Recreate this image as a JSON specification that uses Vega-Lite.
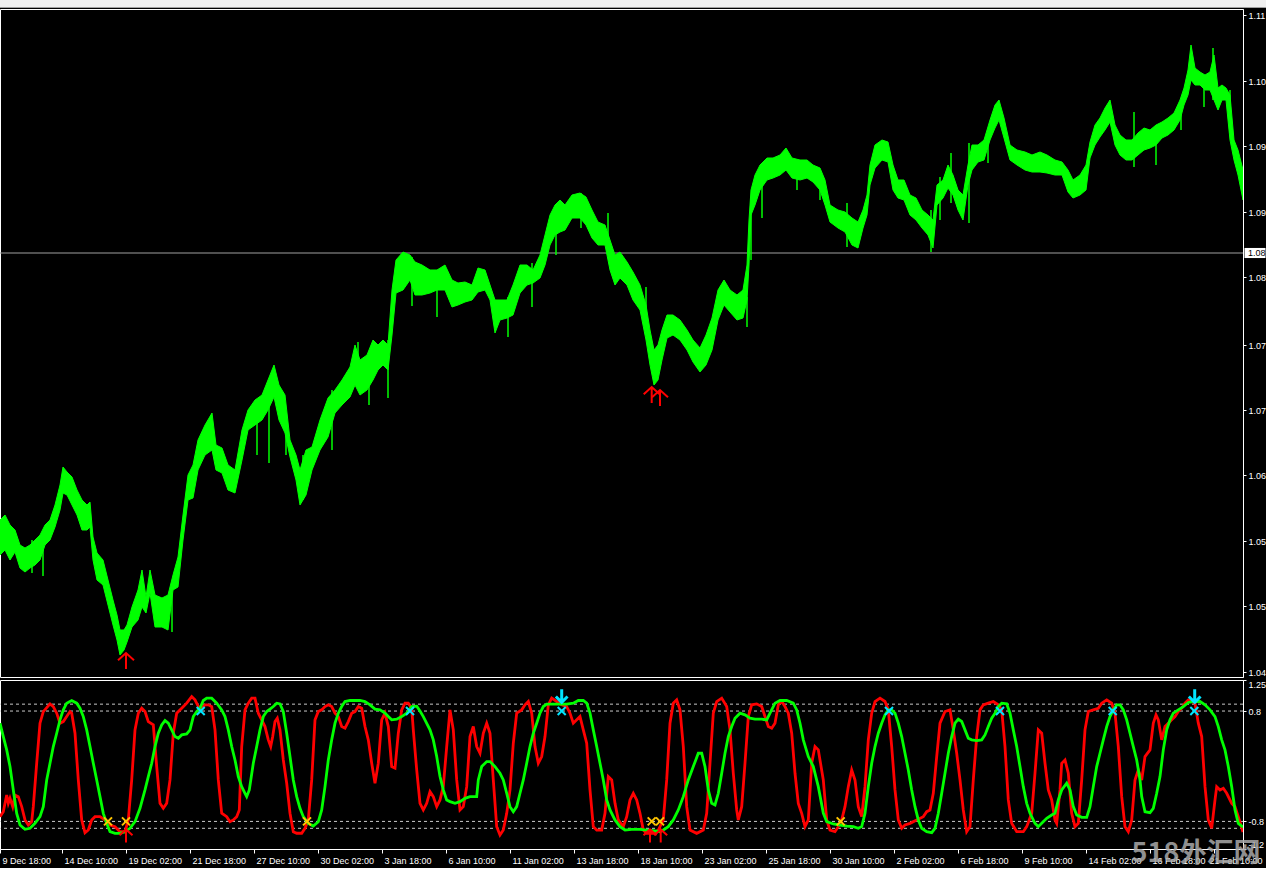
{
"$schema": "https://vega.github.io/schema/vega-lite/v6.json",
"background": "#000000",
"padding": {"left": -1, "top": 0, "right": 0, "bottom": 0},
"spacing": 1,
"bounds": "flush",
"config": {"view": {"stroke": "#ffffff", "strokeWidth": 1, "fill": "#000000"}, "axis": {"labelFont": "Liberation Sans", "labelFontSize": 9, "labelColor": "#ffffff", "tickColor": "#ffffff", "domainColor": "#ffffff", "grid": false}},
"datasets": {
"price": [
{"i":0,"hi":1.0605,"lo":1.057},{"i":5,"hi":1.061,"lo":1.0575},{"i":10,"hi":1.06,"lo":1.0565},{"i":15,"hi":1.0595,"lo":1.0573},{"i":20,"hi":1.058,"lo":1.0557},{"i":25,"hi":1.0577,"lo":1.0553},{"i":30,"hi":1.058,"lo":1.0557},{"i":35,"hi":1.0585,"lo":1.056},{"i":40,"hi":1.059,"lo":1.0565},{"i":45,"hi":1.06,"lo":1.058},{"i":50,"hi":1.0605,"lo":1.0585},{"i":55,"hi":1.062,"lo":1.0598},{"i":60,"hi":1.064,"lo":1.0615},{"i":63,"hi":1.0658,"lo":1.0632},{"i":67,"hi":1.0653,"lo":1.063},{"i":72,"hi":1.0648,"lo":1.062},{"i":77,"hi":1.0635,"lo":1.061},{"i":82,"hi":1.0625,"lo":1.0595},{"i":87,"hi":1.062,"lo":1.0595},{"i":90,"hi":1.0623,"lo":1.0598},{"i":93,"hi":1.0588,"lo":1.0565},{"i":97,"hi":1.0572,"lo":1.0545},{"i":103,"hi":1.0565,"lo":1.054},{"i":108,"hi":1.0545,"lo":1.052},{"i":113,"hi":1.0525,"lo":1.05},{"i":117,"hi":1.051,"lo":1.0485},{"i":120,"hi":1.0495,"lo":1.047},{"i":124,"hi":1.0495,"lo":1.0475},{"i":127,"hi":1.05,"lo":1.0483},{"i":132,"hi":1.0518,"lo":1.0498},{"i":138,"hi":1.0535,"lo":1.0505},{"i":142,"hi":1.0555,"lo":1.0518},{"i":146,"hi":1.0528,"lo":1.0512},{"i":150,"hi":1.0555,"lo":1.0532},{"i":155,"hi":1.053,"lo":1.0498},{"i":162,"hi":1.0527,"lo":1.0498},{"i":168,"hi":1.053,"lo":1.0495},{"i":173,"hi":1.055,"lo":1.0535},{"i":178,"hi":1.0568,"lo":1.0538},{"i":183,"hi":1.061,"lo":1.0585},{"i":188,"hi":1.065,"lo":1.0625},{"i":193,"hi":1.066,"lo":1.0627},{"i":198,"hi":1.0685,"lo":1.0655},{"i":205,"hi":1.07,"lo":1.067},{"i":212,"hi":1.0712,"lo":1.0675},{"i":216,"hi":1.068,"lo":1.0655},{"i":222,"hi":1.0677,"lo":1.0652},{"i":228,"hi":1.066,"lo":1.0635},{"i":235,"hi":1.0655,"lo":1.0632},{"i":242,"hi":1.0695,"lo":1.0665},{"i":248,"hi":1.0715,"lo":1.0695},{"i":255,"hi":1.0725,"lo":1.07},{"i":262,"hi":1.073,"lo":1.0705},{"i":268,"hi":1.0745,"lo":1.0715},{"i":274,"hi":1.076,"lo":1.0728},{"i":279,"hi":1.074,"lo":1.0705},{"i":285,"hi":1.073,"lo":1.0692},{"i":290,"hi":1.0685,"lo":1.0668},{"i":296,"hi":1.067,"lo":1.0645},{"i":300,"hi":1.0655,"lo":1.062},{"i":306,"hi":1.0675,"lo":1.063},{"i":312,"hi":1.0678,"lo":1.0655},{"i":320,"hi":1.0705,"lo":1.0675},{"i":328,"hi":1.0727,"lo":1.0688},{"i":335,"hi":1.0735,"lo":1.0712},{"i":342,"hi":1.0745,"lo":1.072},{"i":350,"hi":1.0758,"lo":1.0728},{"i":355,"hi":1.078,"lo":1.074},{"i":360,"hi":1.0765,"lo":1.073},{"i":367,"hi":1.077,"lo":1.0735},{"i":373,"hi":1.0785,"lo":1.0745},{"i":378,"hi":1.078,"lo":1.0755},{"i":383,"hi":1.0785,"lo":1.076},{"i":388,"hi":1.078,"lo":1.0755},{"i":392,"hi":1.0835,"lo":1.079},{"i":396,"hi":1.0865,"lo":1.0832},{"i":403,"hi":1.0873,"lo":1.0835},{"i":410,"hi":1.087,"lo":1.0845},{"i":415,"hi":1.0863,"lo":1.083},{"i":422,"hi":1.086,"lo":1.083},{"i":430,"hi":1.0855,"lo":1.0832},{"i":437,"hi":1.0855,"lo":1.0835},{"i":445,"hi":1.086,"lo":1.0835},{"i":452,"hi":1.0845,"lo":1.0818},{"i":458,"hi":1.0842,"lo":1.082},{"i":465,"hi":1.0843,"lo":1.0823},{"i":472,"hi":1.084,"lo":1.0825},{"i":478,"hi":1.0857,"lo":1.0833},{"i":485,"hi":1.0855,"lo":1.0835},{"i":490,"hi":1.084,"lo":1.0825},{"i":495,"hi":1.0825,"lo":1.0792},{"i":500,"hi":1.0825,"lo":1.0805},{"i":507,"hi":1.0825,"lo":1.0807},{"i":513,"hi":1.084,"lo":1.081},{"i":520,"hi":1.086,"lo":1.0832},{"i":527,"hi":1.086,"lo":1.084},{"i":533,"hi":1.0855,"lo":1.0842},{"i":540,"hi":1.087,"lo":1.0847},{"i":545,"hi":1.089,"lo":1.086},{"i":550,"hi":1.091,"lo":1.088},{"i":555,"hi":1.092,"lo":1.089},{"i":560,"hi":1.0925,"lo":1.0893},{"i":565,"hi":1.092,"lo":1.0895},{"i":572,"hi":1.093,"lo":1.0907},{"i":580,"hi":1.0932,"lo":1.0907},{"i":586,"hi":1.0928,"lo":1.09},{"i":592,"hi":1.0915,"lo":1.0887},{"i":598,"hi":1.0903,"lo":1.088},{"i":605,"hi":1.09,"lo":1.088},{"i":610,"hi":1.0885,"lo":1.0855},{"i":615,"hi":1.087,"lo":1.084},{"i":620,"hi":1.0873,"lo":1.0847},{"i":627,"hi":1.0863,"lo":1.084},{"i":633,"hi":1.0853,"lo":1.0825},{"i":640,"hi":1.084,"lo":1.0815},{"i":646,"hi":1.082,"lo":1.0785},{"i":650,"hi":1.0795,"lo":1.076},{"i":654,"hi":1.0775,"lo":1.074},{"i":658,"hi":1.078,"lo":1.0745},{"i":662,"hi":1.0795,"lo":1.0765},{"i":667,"hi":1.081,"lo":1.0787},{"i":673,"hi":1.081,"lo":1.079},{"i":680,"hi":1.0805,"lo":1.0785},{"i":687,"hi":1.0795,"lo":1.0775},{"i":693,"hi":1.0785,"lo":1.0763},{"i":700,"hi":1.0777,"lo":1.0753},{"i":706,"hi":1.079,"lo":1.076},{"i":712,"hi":1.0807,"lo":1.0775},{"i":718,"hi":1.0835,"lo":1.0805},{"i":724,"hi":1.0845,"lo":1.082},{"i":730,"hi":1.0835,"lo":1.0813},{"i":737,"hi":1.083,"lo":1.0805},{"i":743,"hi":1.0835,"lo":1.0807},{"i":747,"hi":1.086,"lo":1.0825},{"i":749,"hi":1.0905,"lo":1.086},{"i":751,"hi":1.0935,"lo":1.091},{"i":755,"hi":1.095,"lo":1.092},{"i":760,"hi":1.096,"lo":1.0935},{"i":767,"hi":1.0967,"lo":1.0945},{"i":773,"hi":1.0967,"lo":1.0947},{"i":780,"hi":1.097,"lo":1.095},{"i":786,"hi":1.0977,"lo":1.0955},{"i":792,"hi":1.0967,"lo":1.0947},{"i":800,"hi":1.0965,"lo":1.0945},{"i":807,"hi":1.0965,"lo":1.0947},{"i":813,"hi":1.096,"lo":1.0943},{"i":820,"hi":1.0957,"lo":1.0935},{"i":825,"hi":1.0945,"lo":1.092},{"i":830,"hi":1.092,"lo":1.0903},{"i":838,"hi":1.0915,"lo":1.0897},{"i":845,"hi":1.0913,"lo":1.0893},{"i":852,"hi":1.0907,"lo":1.088},{"i":858,"hi":1.0903,"lo":1.0877},{"i":863,"hi":1.0915,"lo":1.0897},{"i":867,"hi":1.093,"lo":1.091},{"i":870,"hi":1.096,"lo":1.094},{"i":875,"hi":1.098,"lo":1.0957},{"i":882,"hi":1.0985,"lo":1.0965},{"i":888,"hi":1.0983,"lo":1.0963},{"i":893,"hi":1.096,"lo":1.0935},{"i":898,"hi":1.0945,"lo":1.0927},{"i":904,"hi":1.0945,"lo":1.0925},{"i":910,"hi":1.093,"lo":1.091},{"i":916,"hi":1.0927,"lo":1.0905},{"i":922,"hi":1.0915,"lo":1.0897},{"i":928,"hi":1.091,"lo":1.089},{"i":933,"hi":1.0905,"lo":1.0877},{"i":937,"hi":1.094,"lo":1.092},{"i":943,"hi":1.0945,"lo":1.0927},{"i":948,"hi":1.096,"lo":1.0937},{"i":953,"hi":1.095,"lo":1.093},{"i":958,"hi":1.0935,"lo":1.0915},{"i":963,"hi":1.093,"lo":1.0905},{"i":968,"hi":1.096,"lo":1.094},{"i":972,"hi":1.098,"lo":1.0955},{"i":978,"hi":1.098,"lo":1.0963},{"i":984,"hi":1.0985,"lo":1.0965},{"i":990,"hi":1.1005,"lo":1.0985},{"i":995,"hi":1.102,"lo":1.0997},{"i":999,"hi":1.1025,"lo":1.1005},{"i":1004,"hi":1.1007,"lo":1.0987},{"i":1010,"hi":1.098,"lo":1.0965},{"i":1017,"hi":1.0975,"lo":1.096},{"i":1025,"hi":1.0973,"lo":1.0955},{"i":1032,"hi":1.097,"lo":1.0953},{"i":1040,"hi":1.0973,"lo":1.0953},{"i":1047,"hi":1.097,"lo":1.0952},{"i":1055,"hi":1.0965,"lo":1.095},{"i":1062,"hi":1.0963,"lo":1.095},{"i":1068,"hi":1.0955,"lo":1.0933},{"i":1073,"hi":1.0945,"lo":1.0927},{"i":1080,"hi":1.095,"lo":1.093},{"i":1086,"hi":1.096,"lo":1.0935},{"i":1090,"hi":1.0983,"lo":1.0967},{"i":1095,"hi":1.1,"lo":1.098},{"i":1100,"hi":1.1007,"lo":1.0988},{"i":1105,"hi":1.1017,"lo":1.0995},{"i":1110,"hi":1.1025,"lo":1.1003},{"i":1115,"hi":1.1,"lo":1.098},{"i":1120,"hi":1.099,"lo":1.097},{"i":1126,"hi":1.0985,"lo":1.0965},{"i":1132,"hi":1.0985,"lo":1.0965},{"i":1138,"hi":1.0992,"lo":1.097},{"i":1144,"hi":1.0997,"lo":1.0975},{"i":1150,"hi":1.0995,"lo":1.0977},{"i":1156,"hi":1.1,"lo":1.098},{"i":1162,"hi":1.1003,"lo":1.0987},{"i":1168,"hi":1.1007,"lo":1.099},{"i":1174,"hi":1.1012,"lo":1.0995},{"i":1180,"hi":1.1025,"lo":1.1005},{"i":1184,"hi":1.1037,"lo":1.102},{"i":1188,"hi":1.1055,"lo":1.103},{"i":1191,"hi":1.108,"lo":1.1045},{"i":1195,"hi":1.1057,"lo":1.104},{"i":1200,"hi":1.1053,"lo":1.104},{"i":1205,"hi":1.105,"lo":1.1035},{"i":1210,"hi":1.1053,"lo":1.1035},{"i":1214,"hi":1.107,"lo":1.1025},{"i":1218,"hi":1.1037,"lo":1.1015},{"i":1222,"hi":1.104,"lo":1.1025},{"i":1226,"hi":1.1037,"lo":1.1025},{"i":1230,"hi":1.103,"lo":1.0985},{"i":1234,"hi":1.0985,"lo":1.0965},{"i":1238,"hi":1.0975,"lo":1.095},{"i":1243,"hi":1.0955,"lo":1.0925}
],
"wicks": [
{"i":32,"hi":1.0585,"lo":1.0552},{"i":43,"hi":1.0575,"lo":1.0549},{"i":172,"hi":1.0532,"lo":1.0493},{"i":257,"hi":1.0718,"lo":1.067},{"i":269,"hi":1.0735,"lo":1.0662},{"i":286,"hi":1.0702,"lo":1.067},{"i":303,"hi":1.067,"lo":1.0625},{"i":332,"hi":1.0735,"lo":1.0675},{"i":358,"hi":1.0783,"lo":1.0752},{"i":369,"hi":1.0758,"lo":1.072},{"i":388,"hi":1.0785,"lo":1.0727},{"i":412,"hi":1.0868,"lo":1.0819},{"i":437,"hi":1.0845,"lo":1.0808},{"i":508,"hi":1.0828,"lo":1.0788},{"i":532,"hi":1.0862,"lo":1.0818},{"i":556,"hi":1.0912,"lo":1.087},{"i":581,"hi":1.0932,"lo":1.0897},{"i":608,"hi":1.0912,"lo":1.0882},{"i":646,"hi":1.0838,"lo":1.0808},{"i":747,"hi":1.0828,"lo":1.0798},{"i":751,"hi":1.0928,"lo":1.0865},{"i":762,"hi":1.0955,"lo":1.0907},{"i":797,"hi":1.0965,"lo":1.0935},{"i":820,"hi":1.0952,"lo":1.0925},{"i":847,"hi":1.0922,"lo":1.0878},{"i":931,"hi":1.0915,"lo":1.0873},{"i":940,"hi":1.0948,"lo":1.0905},{"i":951,"hi":1.0972,"lo":1.0922},{"i":969,"hi":1.0982,"lo":1.0902},{"i":988,"hi":1.0995,"lo":1.0962},{"i":1134,"hi":1.1013,"lo":1.0958},{"i":1156,"hi":1.0995,"lo":1.096},{"i":1181,"hi":1.1018,"lo":1.0995},{"i":1204,"hi":1.1048,"lo":1.1018},{"i":1213,"hi":1.1077,"lo":1.1025},{"i":1230,"hi":1.1035,"lo":1.0992}
],
"fast": [
{"i":0,"v":-0.731},{"i":3.3,"v":-0.659},{"i":6.7,"v":-0.417},{"i":8.3,"v":-0.537},{"i":10,"v":-0.465},{"i":12.7,"v":-0.586},{"i":15,"v":-0.417},{"i":18.3,"v":-0.441},{"i":21.7,"v":-0.586},{"i":25,"v":-0.779},{"i":28.3,"v":-0.852},{"i":31.7,"v":-0.804},{"i":33.3,"v":-0.586},{"i":36.7,"v":0.044},{"i":40,"v":0.624},{"i":43.3,"v":0.792},{"i":50,"v":0.904},{"i":53.3,"v":0.865},{"i":56.7,"v":0.769},{"i":60,"v":0.624},{"i":63.3,"v":0.647},{"i":66.7,"v":0.72},{"i":70,"v":0.792},{"i":71.7,"v":0.769},{"i":75,"v":0.479},{"i":78.3,"v":-0.199},{"i":81.7,"v":-0.779},{"i":85,"v":-0.964},{"i":88.3,"v":-0.925},{"i":91.7,"v":-0.779},{"i":95,"v":-0.731},{"i":100,"v":-0.731},{"i":105,"v":-0.779},{"i":110,"v":-0.852},{"i":115,"v":-0.877},{"i":120,"v":-0.95},{"i":125,"v":-0.95},{"i":128.3,"v":-0.779},{"i":131.7,"v":-0.199},{"i":135,"v":0.527},{"i":138.3,"v":0.769},{"i":141.7,"v":0.842},{"i":145,"v":0.792},{"i":148.3,"v":0.647},{"i":153.3,"v":0.599},{"i":156.7,"v":-0.006},{"i":160,"v":-0.537},{"i":163.3,"v":-0.61},{"i":166.7,"v":-0.537},{"i":170,"v":-0.199},{"i":173.3,"v":0.479},{"i":176.7,"v":0.769},{"i":181.7,"v":0.842},{"i":186.7,"v":0.914},{"i":191.7,"v":1.01},{"i":195,"v":0.962},{"i":198.3,"v":0.865},{"i":201.7,"v":0.842},{"i":205,"v":0.89},{"i":208.3,"v":0.89},{"i":211.7,"v":0.865},{"i":215,"v":0.527},{"i":218.3,"v":-0.199},{"i":221.7,"v":-0.682},{"i":226.7,"v":-0.731},{"i":230,"v":-0.804},{"i":233.3,"v":-0.779},{"i":236.7,"v":-0.731},{"i":239.3,"v":-0.634},{"i":241.7,"v":0.285},{"i":245,"v":0.817},{"i":248.3,"v":0.914},{"i":251.7,"v":0.987},{"i":255,"v":0.987},{"i":258.3,"v":0.769},{"i":261.7,"v":0.672},{"i":265,"v":0.575},{"i":268.3,"v":0.382},{"i":270.7,"v":0.285},{"i":272.7,"v":0.43},{"i":275,"v":0.647},{"i":277.3,"v":0.697},{"i":280,"v":0.527},{"i":283.3,"v":0.091},{"i":286.7,"v":-0.247},{"i":290,"v":-0.682},{"i":293.3,"v":-0.95},{"i":296.7,"v":-0.972},{"i":301.7,"v":-0.972},{"i":305,"v":-0.9},{"i":308.3,"v":-0.779},{"i":311.7,"v":-0.199},{"i":315,"v":0.672},{"i":318.3,"v":0.792},{"i":321.7,"v":0.817},{"i":325,"v":0.865},{"i":328.3,"v":0.89},{"i":331.7,"v":0.865},{"i":335,"v":0.769},{"i":338.3,"v":0.72},{"i":341.7,"v":0.575},{"i":345,"v":0.552},{"i":348.3,"v":0.647},{"i":351.7,"v":0.769},{"i":355,"v":0.792},{"i":358.3,"v":0.865},{"i":361.7,"v":0.842},{"i":365,"v":0.575},{"i":368.3,"v":0.382},{"i":371.7,"v":0.044},{"i":375,"v":-0.247},{"i":378.3,"v":0.044},{"i":381.7,"v":0.672},{"i":385,"v":0.769},{"i":388.3,"v":0.575},{"i":391.7,"v":-0.006},{"i":395,"v":-0.029},{"i":398.3,"v":0.479},{"i":401.7,"v":0.817},{"i":405,"v":0.914},{"i":408.3,"v":0.914},{"i":411.7,"v":0.842},{"i":413.3,"v":0.527},{"i":416.7,"v":-0.054},{"i":420,"v":-0.538},{"i":423.3,"v":-0.634},{"i":426.7,"v":-0.538},{"i":430,"v":-0.368},{"i":433.3,"v":-0.441},{"i":436.7,"v":-0.586},{"i":440,"v":-0.489},{"i":443.3,"v":-0.296},{"i":446.7,"v":0.285},{"i":450,"v":0.817},{"i":453.3,"v":0.527},{"i":456.7,"v":-0.199},{"i":460,"v":-0.634},{"i":463.3,"v":-0.586},{"i":466.7,"v":-0.296},{"i":470,"v":0.43},{"i":473.3,"v":0.575},{"i":476.7,"v":0.285},{"i":480,"v":0.188},{"i":483.3,"v":0.478},{"i":486.7,"v":0.624},{"i":490,"v":0.478},{"i":493.3,"v":-0.199},{"i":496.7,"v":-0.876},{"i":500,"v":-0.997},{"i":503.3,"v":-0.925},{"i":506.7,"v":-0.683},{"i":510,"v":-0.344},{"i":513.3,"v":0.333},{"i":516.7,"v":0.769},{"i":521.7,"v":0.817},{"i":525,"v":0.89},{"i":528.3,"v":0.938},{"i":531.7,"v":0.769},{"i":535,"v":0.285},{"i":538.3,"v":0.043},{"i":541.7,"v":0.14},{"i":545,"v":0.43},{"i":548.3,"v":0.89},{"i":551.7,"v":0.987},{"i":556.7,"v":0.938},{"i":561.7,"v":0.89},{"i":566.7,"v":0.865},{"i":570,"v":0.769},{"i":573.3,"v":0.624},{"i":576.7,"v":0.672},{"i":580,"v":0.72},{"i":583.3,"v":0.527},{"i":586.7,"v":0.333},{"i":590,"v":-0.344},{"i":593.3,"v":-0.876},{"i":596.7,"v":-0.925},{"i":601.7,"v":-0.925},{"i":605,"v":-0.683},{"i":608.3,"v":-0.15},{"i":611.7,"v":-0.199},{"i":615,"v":-0.538},{"i":618.3,"v":-0.779},{"i":623.3,"v":-0.876},{"i":626.7,"v":-0.731},{"i":630,"v":-0.489},{"i":633.3,"v":-0.392},{"i":636.7,"v":-0.489},{"i":640,"v":-0.683},{"i":643.3,"v":-0.925},{"i":646.7,"v":-0.973},{"i":653.3,"v":-0.973},{"i":658.3,"v":-0.925},{"i":663.3,"v":-0.779},{"i":666.7,"v":-0.199},{"i":670,"v":0.624},{"i":673.3,"v":0.914},{"i":676.7,"v":0.962},{"i":680,"v":0.817},{"i":683.3,"v":0.285},{"i":686.7,"v":-0.586},{"i":690,"v":-0.925},{"i":696.7,"v":-0.973},{"i":703.3,"v":-0.925},{"i":706.7,"v":-0.683},{"i":710,"v":0.043},{"i":713.3,"v":0.769},{"i":716.7,"v":0.938},{"i":721.7,"v":0.987},{"i":726.7,"v":0.865},{"i":730,"v":0.527},{"i":733.3,"v":-0.102},{"i":736.7,"v":-0.634},{"i":738.3,"v":-0.779},{"i":741.7,"v":-0.586},{"i":745,"v":0.043},{"i":748.3,"v":0.72},{"i":751.7,"v":0.89},{"i":756.7,"v":0.904},{"i":761.7,"v":0.865},{"i":765,"v":0.72},{"i":768.3,"v":0.575},{"i":771.7,"v":0.551},{"i":775,"v":0.624},{"i":778.3,"v":0.89},{"i":781.7,"v":0.938},{"i":785,"v":0.865},{"i":788.3,"v":0.769},{"i":791.7,"v":0.478},{"i":795,"v":-0.102},{"i":798.3,"v":-0.538},{"i":801.7,"v":-0.683},{"i":805,"v":-0.876},{"i":808.3,"v":-0.779},{"i":811.7,"v":0.043},{"i":815,"v":0.285},{"i":818.3,"v":0.237},{"i":823.3,"v":-0.199},{"i":826.7,"v":-0.779},{"i":830,"v":-0.925},{"i":835,"v":-0.949},{"i":838.3,"v":-0.876},{"i":841.7,"v":-0.779},{"i":845,"v":-0.586},{"i":848.3,"v":-0.296},{"i":851.7,"v":-0.054},{"i":855,"v":-0.199},{"i":858.3,"v":-0.586},{"i":861.7,"v":-0.731},{"i":865,"v":-0.296},{"i":868.3,"v":0.382},{"i":871.7,"v":0.769},{"i":875,"v":0.938},{"i":880,"v":0.987},{"i":885,"v":0.938},{"i":888.3,"v":0.817},{"i":891.7,"v":0.285},{"i":895,"v":-0.344},{"i":898.3,"v":-0.779},{"i":901.7,"v":-0.9},{"i":905,"v":-0.852},{"i":910,"v":-0.828},{"i":916.7,"v":-0.779},{"i":923.3,"v":-0.731},{"i":926.7,"v":-0.659},{"i":930,"v":-0.634},{"i":933.3,"v":-0.392},{"i":936.7,"v":0.14},{"i":940,"v":0.624},{"i":945,"v":0.793},{"i":950,"v":0.817},{"i":953.3,"v":0.527},{"i":956.7,"v":0.188},{"i":960,"v":-0.199},{"i":963.3,"v":-0.634},{"i":966.7,"v":-0.949},{"i":970,"v":-0.876},{"i":973.3,"v":-0.199},{"i":976.7,"v":0.43},{"i":980,"v":0.817},{"i":983.3,"v":0.89},{"i":988.3,"v":0.914},{"i":993.3,"v":0.938},{"i":998.3,"v":0.89},{"i":1001.7,"v":0.817},{"i":1005,"v":0.285},{"i":1008.3,"v":-0.489},{"i":1011.7,"v":-0.828},{"i":1016.7,"v":-0.949},{"i":1023.3,"v":-0.949},{"i":1026.7,"v":-0.876},{"i":1031.7,"v":-0.683},{"i":1035,"v":-0.102},{"i":1038.3,"v":0.527},{"i":1041.7,"v":0.478},{"i":1045,"v":0.043},{"i":1048.3,"v":-0.344},{"i":1051.7,"v":-0.489},{"i":1055,"v":-0.779},{"i":1056.7,"v":-0.828},{"i":1060,"v":-0.344},{"i":1061.7,"v":0.043},{"i":1065,"v":0.091},{"i":1068.3,"v":-0.102},{"i":1071.7,"v":-0.683},{"i":1075,"v":-0.876},{"i":1078.3,"v":-0.828},{"i":1081.7,"v":-0.199},{"i":1085,"v":0.527},{"i":1088.3,"v":0.793},{"i":1093.3,"v":0.817},{"i":1098.3,"v":0.841},{"i":1101.7,"v":0.914},{"i":1106.7,"v":0.962},{"i":1111.7,"v":0.914},{"i":1115,"v":0.769},{"i":1118.3,"v":0.285},{"i":1121.7,"v":-0.441},{"i":1125,"v":-0.876},{"i":1128.3,"v":-0.949},{"i":1131.7,"v":-0.779},{"i":1135,"v":-0.199},{"i":1138.3,"v":-0.054},{"i":1141.7,"v":-0.199},{"i":1145,"v":0.14},{"i":1150,"v":0.237},{"i":1153.3,"v":0.624},{"i":1156,"v":0.745},{"i":1158.3,"v":0.672},{"i":1161.7,"v":0.382},{"i":1165,"v":0.575},{"i":1168.3,"v":0.624},{"i":1171.7,"v":0.672},{"i":1175,"v":0.72},{"i":1178.3,"v":0.793},{"i":1181.7,"v":0.841},{"i":1185,"v":0.914},{"i":1188.3,"v":0.962},{"i":1191.7,"v":0.938},{"i":1195,"v":0.914},{"i":1198.3,"v":0.624},{"i":1201.7,"v":0.43},{"i":1205,"v":-0.296},{"i":1208.3,"v":-0.779},{"i":1211.7,"v":-0.9},{"i":1215,"v":-0.489},{"i":1216.7,"v":-0.296},{"i":1220,"v":-0.344},{"i":1223.3,"v":-0.32},{"i":1226.7,"v":-0.392},{"i":1231.7,"v":-0.538},{"i":1235,"v":-0.586},{"i":1238.3,"v":-0.731},{"i":1243,"v":-0.954}
],
"slow": [
{"i":0,"v":0.624},{"i":3.3,"v":0.43},{"i":6.7,"v":0.237},{"i":10,"v":-0.005},{"i":13.3,"v":-0.344},{"i":16.7,"v":-0.683},{"i":20,"v":-0.852},{"i":25,"v":-0.915},{"i":30,"v":-0.9},{"i":35,"v":-0.828},{"i":40,"v":-0.731},{"i":43.3,"v":-0.586},{"i":46.7,"v":-0.199},{"i":50,"v":0.043},{"i":53.3,"v":0.285},{"i":56.7,"v":0.478},{"i":60,"v":0.672},{"i":63.3,"v":0.817},{"i":66.7,"v":0.914},{"i":71.7,"v":0.953},{"i":76.7,"v":0.914},{"i":80,"v":0.841},{"i":83.3,"v":0.72},{"i":86.7,"v":0.527},{"i":90,"v":0.285},{"i":93.3,"v":0.043},{"i":96.7,"v":-0.199},{"i":100,"v":-0.441},{"i":103.3,"v":-0.683},{"i":106.7,"v":-0.828},{"i":110,"v":-0.949},{"i":115,"v":-0.973},{"i":120,"v":-0.973},{"i":125,"v":-0.949},{"i":130,"v":-0.9},{"i":135,"v":-0.804},{"i":140,"v":-0.61},{"i":145,"v":-0.344},{"i":148.3,"v":-0.15},{"i":151.7,"v":0.043},{"i":155,"v":0.285},{"i":158.3,"v":0.478},{"i":161.7,"v":0.599},{"i":165,"v":0.662},{"i":168.3,"v":0.624},{"i":171.7,"v":0.527},{"i":175,"v":0.43},{"i":178.3,"v":0.406},{"i":181.7,"v":0.454},{"i":186.7,"v":0.469},{"i":190,"v":0.527},{"i":193.3,"v":0.72},{"i":196.7,"v":0.793},{"i":200,"v":0.841},{"i":203.3,"v":0.953},{"i":206.7,"v":0.987},{"i":211.7,"v":0.987},{"i":216.7,"v":0.914},{"i":221.7,"v":0.817},{"i":225,"v":0.72},{"i":228.3,"v":0.527},{"i":231.7,"v":0.285},{"i":235,"v":0.091},{"i":238.3,"v":-0.15},{"i":241.7,"v":-0.296},{"i":245,"v":-0.392},{"i":246.7,"v":-0.441},{"i":249.3,"v":-0.344},{"i":253.3,"v":0.043},{"i":256.7,"v":0.285},{"i":260,"v":0.527},{"i":263.3,"v":0.72},{"i":266.7,"v":0.793},{"i":270,"v":0.827},{"i":273.3,"v":0.865},{"i":276.7,"v":0.914},{"i":280,"v":0.904},{"i":283.3,"v":0.793},{"i":286.7,"v":0.478},{"i":290,"v":0.14},{"i":293.3,"v":-0.199},{"i":296.7,"v":-0.441},{"i":300,"v":-0.61},{"i":303.3,"v":-0.731},{"i":308.3,"v":-0.828},{"i":313.3,"v":-0.867},{"i":318.3,"v":-0.804},{"i":321.7,"v":-0.634},{"i":325,"v":-0.296},{"i":328.3,"v":0.091},{"i":331.7,"v":0.382},{"i":335,"v":0.624},{"i":338.3,"v":0.769},{"i":341.7,"v":0.865},{"i":345,"v":0.938},{"i":350,"v":0.953},{"i":360,"v":0.953},{"i":365,"v":0.938},{"i":370,"v":0.89},{"i":375,"v":0.827},{"i":380,"v":0.817},{"i":385,"v":0.769},{"i":388.3,"v":0.72},{"i":391.7,"v":0.672},{"i":396.7,"v":0.682},{"i":401.7,"v":0.72},{"i":406.7,"v":0.769},{"i":411.7,"v":0.865},{"i":416.7,"v":0.87},{"i":420,"v":0.8},{"i":423.3,"v":0.72},{"i":430,"v":0.527},{"i":433.3,"v":0.382},{"i":436.7,"v":0.14},{"i":440,"v":-0.15},{"i":443.3,"v":-0.344},{"i":446.7,"v":-0.489},{"i":450,"v":-0.513},{"i":455,"v":-0.538},{"i":460,"v":-0.513},{"i":465,"v":-0.465},{"i":470,"v":-0.441},{"i":476.7,"v":-0.441},{"i":478.3,"v":-0.199},{"i":481.7,"v":-0.005},{"i":486.7,"v":0.067},{"i":490,"v":0.067},{"i":495,"v":-0.005},{"i":500,"v":-0.102},{"i":503.3,"v":-0.199},{"i":506.7,"v":-0.392},{"i":510,"v":-0.586},{"i":513.3,"v":-0.659},{"i":516.7,"v":-0.586},{"i":520,"v":-0.392},{"i":523.3,"v":-0.199},{"i":526.7,"v":0.043},{"i":530,"v":0.285},{"i":533.3,"v":0.478},{"i":536.7,"v":0.624},{"i":540,"v":0.769},{"i":543.3,"v":0.865},{"i":546.7,"v":0.899},{"i":566.7,"v":0.899},{"i":573.3,"v":0.914},{"i":578.3,"v":0.953},{"i":583.3,"v":0.953},{"i":586.7,"v":0.914},{"i":590,"v":0.769},{"i":593.3,"v":0.527},{"i":596.7,"v":0.285},{"i":600,"v":0.043},{"i":603.3,"v":-0.199},{"i":606.7,"v":-0.489},{"i":610,"v":-0.634},{"i":615,"v":-0.779},{"i":620,"v":-0.876},{"i":625,"v":-0.925},{"i":631.7,"v":-0.915},{"i":640,"v":-0.915},{"i":646.7,"v":-0.925},{"i":653.3,"v":-0.934},{"i":660,"v":-0.949},{"i":663.3,"v":-0.925},{"i":668.3,"v":-0.876},{"i":673.3,"v":-0.779},{"i":678.3,"v":-0.634},{"i":683.3,"v":-0.441},{"i":688.3,"v":-0.199},{"i":693.3,"v":-0.005},{"i":698.3,"v":0.188},{"i":701.7,"v":0.188},{"i":705,"v":-0.005},{"i":708.3,"v":-0.344},{"i":711.7,"v":-0.538},{"i":715,"v":-0.562},{"i":718.3,"v":-0.392},{"i":721.7,"v":-0.102},{"i":725,"v":0.188},{"i":728.3,"v":0.43},{"i":731.7,"v":0.575},{"i":735,"v":0.696},{"i":740,"v":0.769},{"i":745,"v":0.745},{"i":750,"v":0.696},{"i":755,"v":0.682},{"i":761.7,"v":0.682},{"i":766.7,"v":0.672},{"i":770,"v":0.769},{"i":775,"v":0.914},{"i":780,"v":0.953},{"i":786.7,"v":0.953},{"i":793.3,"v":0.914},{"i":796.7,"v":0.817},{"i":800,"v":0.624},{"i":803.3,"v":0.382},{"i":808.3,"v":0.14},{"i":813.3,"v":-0.005},{"i":818.3,"v":-0.296},{"i":823.3,"v":-0.68},{"i":826.7,"v":-0.804},{"i":833.3,"v":-0.837},{"i":840,"v":-0.852},{"i":846.7,"v":-0.867},{"i":853.3,"v":-0.876},{"i":858.3,"v":-0.9},{"i":861.7,"v":-0.876},{"i":865,"v":-0.683},{"i":868.3,"v":-0.296},{"i":871.7,"v":0.043},{"i":875,"v":0.285},{"i":878.3,"v":0.478},{"i":881.7,"v":0.624},{"i":885,"v":0.745},{"i":888.3,"v":0.817},{"i":891.7,"v":0.817},{"i":895,"v":0.769},{"i":898.3,"v":0.624},{"i":901.7,"v":0.43},{"i":905,"v":0.188},{"i":908.3,"v":-0.054},{"i":911.7,"v":-0.344},{"i":915,"v":-0.586},{"i":918.3,"v":-0.779},{"i":921.7,"v":-0.9},{"i":926.7,"v":-0.949},{"i":931.7,"v":-0.963},{"i":935,"v":-0.9},{"i":938.3,"v":-0.683},{"i":941.7,"v":-0.392},{"i":945,"v":-0.102},{"i":948.3,"v":0.188},{"i":951.7,"v":0.43},{"i":955,"v":0.624},{"i":958.3,"v":0.682},{"i":961.7,"v":0.648},{"i":965,"v":0.527},{"i":968.3,"v":0.406},{"i":971.7,"v":0.382},{"i":976.7,"v":0.372},{"i":981.7,"v":0.382},{"i":985,"v":0.454},{"i":988.3,"v":0.575},{"i":991.7,"v":0.696},{"i":995,"v":0.769},{"i":998.3,"v":0.865},{"i":1001.7,"v":0.914},{"i":1006.7,"v":0.904},{"i":1010,"v":0.769},{"i":1013.3,"v":0.527},{"i":1016.7,"v":0.285},{"i":1020,"v":-0.005},{"i":1023.3,"v":-0.296},{"i":1026.7,"v":-0.538},{"i":1030,"v":-0.683},{"i":1035,"v":-0.828},{"i":1038.3,"v":-0.876},{"i":1041.7,"v":-0.828},{"i":1046.7,"v":-0.755},{"i":1051.7,"v":-0.707},{"i":1055,"v":-0.683},{"i":1058.3,"v":-0.489},{"i":1061.7,"v":-0.344},{"i":1066.7,"v":-0.247},{"i":1070,"v":-0.344},{"i":1073.3,"v":-0.586},{"i":1076.7,"v":-0.707},{"i":1081.7,"v":-0.741},{"i":1086.7,"v":-0.741},{"i":1090,"v":-0.586},{"i":1093.3,"v":-0.296},{"i":1096.7,"v":-0.005},{"i":1100,"v":0.188},{"i":1103.3,"v":0.382},{"i":1106.7,"v":0.575},{"i":1110,"v":0.72},{"i":1113.3,"v":0.817},{"i":1116.7,"v":0.89},{"i":1120,"v":0.89},{"i":1123.3,"v":0.817},{"i":1126.7,"v":0.672},{"i":1130,"v":0.478},{"i":1133.3,"v":0.285},{"i":1136.7,"v":0.091},{"i":1140,"v":-0.199},{"i":1141.7,"v":-0.441},{"i":1145,"v":-0.659},{"i":1150,"v":-0.673},{"i":1153.3,"v":-0.61},{"i":1156.7,"v":-0.392},{"i":1160,"v":-0.15},{"i":1163.3,"v":0.237},{"i":1166.7,"v":0.527},{"i":1170,"v":0.672},{"i":1173.3,"v":0.769},{"i":1178.3,"v":0.817},{"i":1183.3,"v":0.865},{"i":1188.3,"v":0.924},{"i":1193.3,"v":0.938},{"i":1200,"v":0.938},{"i":1205,"v":0.89},{"i":1210,"v":0.817},{"i":1215,"v":0.72},{"i":1218.3,"v":0.575},{"i":1221.7,"v":0.382},{"i":1225,"v":0.237},{"i":1228.3,"v":-0.005},{"i":1231.7,"v":-0.296},{"i":1235,"v":-0.634},{"i":1238.3,"v":-0.828},{"i":1243,"v":-0.883}
]
},
"vconcat": [
{
"width": 1266, "height": 8,
"view": {"fill": "#f0f0f0", "stroke": null},
"data": {"values": [{"edge": 0}]},
"mark": {"type": "rule", "color": "#a0a0a0", "strokeWidth": 2, "clip": true},
"encoding": {"y": {"field": "edge", "type": "quantitative", "scale": {"domain": [0, 1]}, "axis": null}}
},
{
"spacing": 3,
"bounds": "flush",
"vconcat": [
{
"width": 1243, "height": 668,
"layer": [
{
"data": {"values": [{"level": 1.0872, "label": "1.08"}]},
"mark": {"type": "rule", "color": "#a0a0a0", "strokeWidth": 1, "clip": true},
"encoding": {"y": {"field": "level", "type": "quantitative", "title": null, "scale": {"domain": [1.0448, 1.1116], "nice": false, "zero": false}}}
},
{
"data": {"name": "price"},
"mark": {"type": "area", "color": "#00ff00", "stroke": "#00ff00", "strokeWidth": 1, "interpolate": "linear", "clip": true},
"encoding": {
"x": {"field": "i", "type": "quantitative", "scale": {"domain": [0, 1243], "nice": false, "zero": false}, "axis": null},
"y": {"field": "hi", "type": "quantitative", "title": null, "scale": {"domain": [1.0448, 1.1116], "nice": false, "zero": false},
"axis": {"orient": "right", "title": null, "values": [1.111, 1.1077, 1.1044, 1.1012, 1.0979, 1.0946, 1.0913, 1.0881, 1.0848, 1.0816, 1.078, 1.0747, 1.0715, 1.0682, 1.065, 1.0617, 1.0584, 1.0552, 1.0519, 1.0487, 1.0453], "labelExpr": "substring(format(datum.value, '.4f'), 0, 4)", "tickSize": 3, "labelPadding": 2, "labelOverlap": false, "labelFlush": false, "labelBound": false, "domain": true}},
"y2": {"field": "lo", "title": null}
}
},
{
"data": {"name": "wicks"},
"mark": {"type": "rule", "color": "#00ff00", "strokeWidth": 1.5, "clip": true},
"encoding": {"x": {"field": "i", "type": "quantitative", "title": null}, "y": {"field": "hi", "type": "quantitative", "title": null}, "y2": {"field": "lo"}}
},
{
"data": {"values": [{"i": 126, "p": 1.0464}, {"i": 651.7, "p": 1.073}, {"i": 660, "p": 1.0727}]},
"mark": {"type": "point", "shape": "M0,-1L0,1M-1,-0.1L0,-1L1,-0.1", "filled": false, "color": "#ff0000", "strokeWidth": 2, "size": 256, "opacity": 1},
"encoding": {"x": {"field": "i", "type": "quantitative", "title": null}, "y": {"field": "p", "type": "quantitative", "title": null}}
},
{
"data": {"values": [{"level": 1.0872, "label": "1.08"}]},
"mark": {"type": "point", "shape": "M-1,-0.48H1V0.48H-1Z", "filled": true, "color": "#ffffff", "size": 441, "opacity": 1},
"encoding": {"x": {"datum": 1255}, "y": {"field": "level", "type": "quantitative", "title": null}}
},
{
"data": {"values": [{"level": 1.0872, "label": "1.08"}]},
"mark": {"type": "text", "align": "left", "baseline": "middle", "color": "#000000", "font": "Liberation Sans", "fontSize": 9},
"encoding": {"x": {"datum": 1248}, "y": {"field": "level", "type": "quantitative", "title": null}, "text": {"field": "label"}}
}
]
},
{
"width": 1243, "height": 169,
"layer": [
{
"data": {"values": [{"lvl": 0.9}, {"lvl": 0.8}, {"lvl": -0.8}, {"lvl": -0.9}]},
"mark": {"type": "rule", "color": "#c8c8c8", "strokeWidth": 1, "strokeDash": [3, 3], "clip": true},
"encoding": {"y": {"field": "lvl", "type": "quantitative", "title": null, "scale": {"domain": [-1.2, 1.25], "nice": false, "zero": false},
"axis": {"orient": "right", "title": null, "values": [1.25, 0.9, 0.8, 0, -0.8, -0.9, -1.2], "labelExpr": "datum.value == 1.25 ? '1.25' : datum.value == 0.9 ? '0.9' : datum.value == 0.8 ? '0.8' : datum.value == 0 ? '0.00' : datum.value == -0.8 ? '-0.8' : datum.value == -0.9 ? '-0.9' : '-1.2'", "tickSize": 3, "labelPadding": 2, "labelOverlap": false, "labelFlush": true, "labelBound": false}}}
},
{
"data": {"name": "fast"},
"mark": {"type": "line", "color": "#ff0000", "strokeWidth": 2.8, "clip": true},
"encoding": {
"x": {"field": "i", "type": "quantitative", "title": null, "scale": {"domain": [0, 1243], "nice": false, "zero": false},
"axis": {"orient": "bottom", "title": null, "values": [0, 62, 126, 190, 254, 318, 382, 446, 510, 574, 638, 702, 766, 830, 894, 958, 1022, 1086, 1150, 1214], "labelExpr": "['9 Dec 18:00','14 Dec 10:00','19 Dec 02:00','21 Dec 18:00','27 Dec 10:00','30 Dec 02:00','3 Jan 18:00','6 Jan 10:00','11 Jan 02:00','13 Jan 18:00','18 Jan 10:00','23 Jan 02:00','25 Jan 18:00','30 Jan 10:00','2 Feb 02:00','6 Feb 18:00','9 Feb 10:00','14 Feb 02:00','16 Feb 18:00','21 Feb 10:00'][round((datum.value + 2) / 64)]", "labelAlign": "left", "labelOffset": {"condition": {"test": "datum.value > 1200", "value": -5}, "value": 2}, "labelPadding": 3, "tickSize": 4, "labelOverlap": false, "labelFlush": false, "labelBound": false}},
"y": {"field": "v", "type": "quantitative", "title": null}
}
},
{
"data": {"name": "slow"},
"mark": {"type": "line", "color": "#00ff00", "strokeWidth": 2.8, "clip": true},
"encoding": {"x": {"field": "i", "type": "quantitative", "title": null}, "y": {"field": "v", "type": "quantitative", "title": null}}
},
{
"data": {"values": [{"i": 108, "v": -0.8}, {"i": 126, "v": -0.8}, {"i": 307, "v": -0.8}, {"i": 651.7, "v": -0.8}, {"i": 660, "v": -0.8}, {"i": 840.7, "v": -0.8}]},
"mark": {"type": "point", "shape": "M-1,-1L1,1M-1,1L1,-1", "filled": false, "color": "#ffc400", "strokeWidth": 2, "size": 64, "opacity": 1},
"encoding": {"x": {"field": "i", "type": "quantitative", "title": null}, "y": {"field": "v", "type": "quantitative", "title": null}}
},
{
"data": {"values": [{"i": 200.7, "v": 0.8}, {"i": 410, "v": 0.8}, {"i": 561.7, "v": 0.8}, {"i": 889, "v": 0.8}, {"i": 1000, "v": 0.8}, {"i": 1112.7, "v": 0.8}, {"i": 1194.3, "v": 0.8}]},
"mark": {"type": "point", "shape": "M-1,-1L1,1M-1,1L1,-1", "filled": false, "color": "#00e5ff", "strokeWidth": 2, "size": 64, "opacity": 1},
"encoding": {"x": {"field": "i", "type": "quantitative", "title": null}, "y": {"field": "v", "type": "quantitative", "title": null}}
},
{
"data": {"values": [{"i": 561.7, "v": 1.02}, {"i": 1194.7, "v": 1.02}]},
"mark": {"type": "point", "shape": "M0,1L0,-1M-0.9,0.1L0,1L0.9,0.1", "filled": false, "color": "#00e5ff", "strokeWidth": 3, "size": 169, "opacity": 1},
"encoding": {"x": {"field": "i", "type": "quantitative", "title": null}, "y": {"field": "v", "type": "quantitative", "title": null}}
},
{
"data": {"values": [{"i": 126, "v": -1.01}, {"i": 650, "v": -1.01}, {"i": 660.7, "v": -1.01}]},
"mark": {"type": "point", "shape": "M0,-1L0,1M-1,-0.1L0,-1L1,-0.1", "filled": false, "color": "#ff0000", "strokeWidth": 2, "size": 169, "opacity": 1},
"encoding": {"x": {"field": "i", "type": "quantitative", "title": null}, "y": {"field": "v", "type": "quantitative", "title": null}}
},
{
"data": {"values": [{"mark": "518外汇网"}]},
"mark": {"type": "text", "align": "center", "baseline": "middle", "color": "#a8a8a8", "opacity": 0.85, "font": "Noto Sans CJK SC", "fontWeight": "bold", "fontSize": 27},
"encoding": {"x": {"datum": 1196}, "y": {"datum": -1.27}, "text": {"field": "mark"}}
}
]
}
]
}
]
}
